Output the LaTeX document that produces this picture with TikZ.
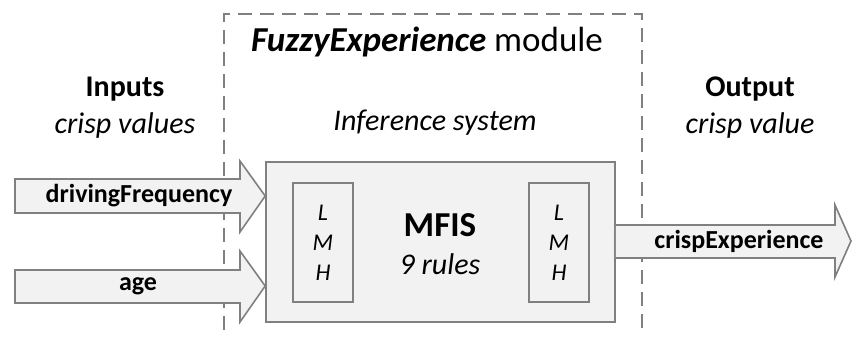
\documentclass[tikz,border=0pt]{standalone}
\usepackage{fontspec}
\setmainfont{Carlito}
\usetikzlibrary{positioning}
\definecolor{boxfill}{RGB}{242,242,242}
\definecolor{boxline}{RGB}{128,128,128}
\tikzset{
  box/.style={draw=boxline, fill=boxfill, line width=1.6pt, inner sep=0pt},
  blockarrow/.style={draw=boxline, fill=boxfill, line width=1.6pt, line join=miter},
  arrlabel/.style={inner sep=0pt, font=\fontsize{26}{28}\selectfont\bfseries},
  headtext/.style={inner sep=0pt, align=center, font=\fontsize{30}{37}\selectfont},
  lmh/.style={box, minimum width=60pt, minimum height=119pt, align=center,
    font=\fontsize{24}{30}\selectfont\itshape}
}

\begin{document}
\begin{tikzpicture}[x=1pt, y=-1pt]
        \useasboundingbox (0,0) rectangle (852,340);
        % module frame, open at the bottom
        \draw[boxline, line width=1.6pt, dash pattern=on 14pt off 8pt] (224,330) -- (224,14) -- (642,14) -- (642,330);
        \node[headtext, font=\fontsize{35}{40}\selectfont] (title) at (427,42) {\textbf{\textit{FuzzyExperience}} module};
        \node[headtext] (infsys) at (435,123) {\textit{Inference system}};
        \node[headtext] (inputs) at (125,108) {\textbf{Inputs}\\\textit{crisp values}};
        \node[headtext] (output) at (750,108) {\textbf{Output}\\\textit{crisp value}};
        % inference system
        \node[box, minimum width=349pt, minimum height=160pt] (mfis) at (440.5,242) {};
        \node[lmh] (inL) at (323,242.5) {L\\M\\H};
        \node[lmh] (inR) at (559,242.5) {L\\M\\H};
        \node[inner sep=0pt, font=\fontsize{35}{40}\selectfont\bfseries] (mfisname) at (440,225) {MFIS};
        \node[inner sep=0pt, font=\fontsize{30}{36}\selectfont\itshape] (rules) at (440,264) {9 rules};
        % inputs
        \node[arrlabel] (freq) at (139,196) {};
        \draw[blockarrow] (15,179) -- (240,179) -- (240,161) -- (freq -| mfis.west) -- (240,232) -- (240,213) -- (15,213) -- cycle;
        \node[arrlabel] at (freq) {drivingFrequency};
        \node[arrlabel] (age) at (138,286) {};
        \draw[blockarrow] (15,270) -- (240,270) -- (240,251) -- (age -| mfis.west) -- (240,322) -- (240,303) -- (15,303) -- cycle;
        \node[arrlabel] at (age) {age};
        % output
        \node[arrlabel] (crisp) at (739,241) {};
        \draw[blockarrow] (mfis.east |- 0,225) -- (835,225) -- (835,205) -- (851,241) -- (835,277) -- (835,258) -- (mfis.east |- 0,258);
        \node[arrlabel] at (crisp) {crispExperience};
    \end{tikzpicture}
\end{document}
